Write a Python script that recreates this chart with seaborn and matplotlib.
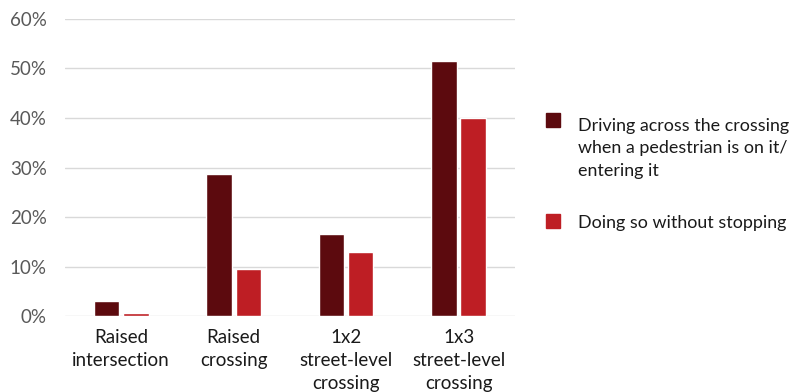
import matplotlib
matplotlib.use("Agg")
import matplotlib.pyplot as plt
from matplotlib.patches import Rectangle
from matplotlib.ticker import PercentFormatter
import seaborn as sns
import pandas as pd

categories = ["Raised\nintersection", "Raised\ncrossing",
              "1x2\nstreet-level\ncrossing", "1x3\nstreet-level\ncrossing"]
series_names = ["Driving across the crossing\nwhen a pedestrian is on it/\nentering it",
                "Doing so without stopping"]
driving_across = [0.031, 0.288, 0.166, 0.514]
without_stopping = [0.006, 0.095, 0.130, 0.400]
colors = ["#5C0A0E", "#BE1E24"]

df = pd.DataFrame({
    "category": categories * 2,
    "series": [series_names[0]] * 4 + [series_names[1]] * 4,
    "value": driving_across + without_stopping,
})

sns.set_theme(style="white")
plt.rcParams["font.family"] = ["Lato", "DejaVu Sans"]

fig = plt.figure(figsize=(7.92, 3.92), dpi=100)
ax = fig.add_axes([0.082, 0.193, 0.568, 0.759])

sns.barplot(data=df, x="category", y="value", hue="series", order=categories,
            hue_order=series_names, palette=colors, width=0.52, gap=0.13,
            saturation=1, legend=False, ax=ax)

ax.set_ylim(0, 0.6)
ax.set_yticks([0, 0.1, 0.2, 0.3, 0.4, 0.5, 0.6])
ax.yaxis.set_major_formatter(PercentFormatter(1.0, decimals=0))
ax.set_xlim(-0.5, 3.5)
ax.grid(axis="y", color="#D9D9D9", linewidth=1)
ax.set_axisbelow(True)
for s in ax.spines.values():
    s.set_visible(False)
ax.set_xlabel("")
ax.set_ylabel("")
ax.tick_params(axis="y", labelsize=13.5, colors="#595959", pad=13, length=0)
ax.tick_params(axis="x", labelsize=13.5, colors="#1A1A1A", pad=9, length=0)
for lbl in ax.get_xticklabels():
    lbl.set_linespacing(1.45)

# Legend drawn beside the plot: (marker top, text top) in pixels for each entry
W, H = 792, 392
entries = [(113, 118, series_names[0]), (214, 215, series_names[1])]
for (mtop, ttop, text), c in zip(entries, colors):
    fig.add_artist(Rectangle((546 / W, 1 - (mtop + 14) / H), 14 / W, 14 / H,
                             transform=fig.transFigure, color=c))
    fig.text(578 / W, 1 - ttop / H, text, ha="left", va="top",
             fontsize=12.9, color="#1A1A1A", linespacing=1.5)

fig.savefig("out.png", dpi=100)
